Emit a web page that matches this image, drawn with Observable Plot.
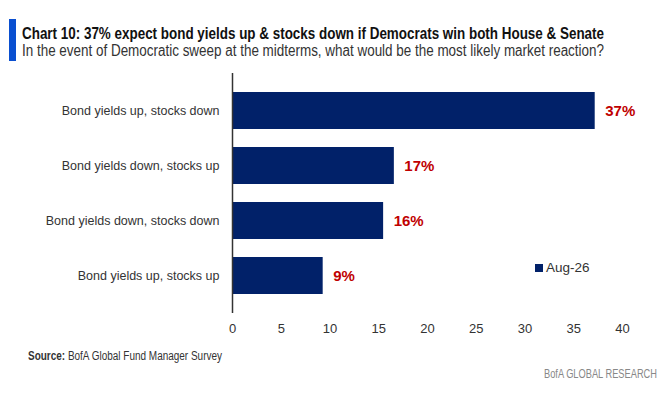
<!DOCTYPE html>
<html>
<head>
<meta charset="utf-8">
<script src="https://cdn.jsdelivr.net/npm/d3@7"></script>
<script src="https://cdn.jsdelivr.net/npm/@observablehq/plot@0.6"></script>
<style>
  body { margin: 0; background: #fff; }
  #wrap { position: relative; width: 665px; height: 400px; overflow: hidden;
    font-family: "Liberation Sans", Arial, sans-serif; color: #222; }
  #accent { position: absolute; left: 9px; top: 19px; width: 7px; height: 42px; background: #0a4fd0; }
  .fit { position: absolute; white-space: nowrap; transform-origin: 0 0; }
  #title { left: 22px; top: 24px; font-weight: bold; font-size: 17px; color: #111; }
  #subtitle { left: 22px; top: 42px; font-size: 16px; color: #333; }
  #chart { position: absolute; left: 0; top: 60px; }
  #legend { position: absolute; left: 535px; top: 260px; font-size: 13.5px; color: #333; display: flex; align-items: center; }
  #legend .sw { width: 8px; height: 8px; background: #012169; margin-right: 3px; }
  #source { left: 28px; top: 349px; font-size: 12px; color: #333; }
  #brand { left: 544px; top: 367px; font-size: 12px; color: #888; }
</style>
</head>
<body>
<div id="wrap">
  <div id="accent"></div>
  <div id="title" class="fit" data-w="582">Chart 10: 37% expect bond yields up &amp; stocks down if Democrats win both House &amp; Senate</div>
  <div id="subtitle" class="fit" data-w="582">In the event of Democratic sweep at the midterms, what would be the most likely market reaction?</div>
  <div id="chart"></div>
  <div id="legend"></div>
  <div id="source" class="fit" data-w="194"><b>Source:</b> BofA Global Fund Manager Survey</div>
  <div id="brand" class="fit" data-w="113">BofA GLOBAL RESEARCH</div>
</div>
<script>
const categories = [
  "Bond yields up, stocks down",
  "Bond yields down, stocks up",
  "Bond yields down, stocks down",
  "Bond yields up, stocks up"
];
const values = [37.2, 16.6, 15.5, 9.3];
const valueLabels = ["37%", "17%", "16%", "9%"];
const xTicks = [0, 5, 10, 15, 20, 25, 30, 35, 40];
const seriesName = "Aug-26";

const navy = "#012169";
const red = "#c00000";

const data = categories.map((c, i) => ({category: c, value: values[i], label: valueLabels[i]}));

const chart = Plot.plot({
  width: 665,
  height: 285,
  marginLeft: 232,
  marginRight: 43,
  marginTop: 13,
  marginBottom: 32,
  style: {fontFamily: '"Liberation Sans", Arial, sans-serif', fontSize: "13px", color: "#333", background: "transparent"},
  x: {domain: [0, 40], ticks: xTicks, tickSize: 0, tickPadding: 10, label: null},
  y: {domain: categories, padding: 0.33, tickSize: 0, tickPadding: 13, label: null},
  marks: [
    Plot.barX(data, {x: "value", y: "category", fill: navy}),
    Plot.ruleX([0], {stroke: "#333", strokeWidth: 1.5}),
    Plot.text(data, {x: "value", y: "category", text: "label", textAnchor: "start", dx: 10, fill: red, fontWeight: "bold", fontSize: 15})
  ]
});
d3.select(chart).selectAll('[aria-label="y-axis tick label"] text').style("font-size", "12.5px");
document.getElementById("chart").appendChild(chart);

const lg = document.getElementById("legend");
lg.innerHTML = '<span class="sw"></span><span></span>';
lg.lastChild.textContent = seriesName;

document.querySelectorAll(".fit").forEach(el => {
  const target = +el.dataset.w;
  const w = el.getBoundingClientRect().width;
  el.style.transform = `scaleX(${target / w})`;
});
</script>
</body>
</html>
